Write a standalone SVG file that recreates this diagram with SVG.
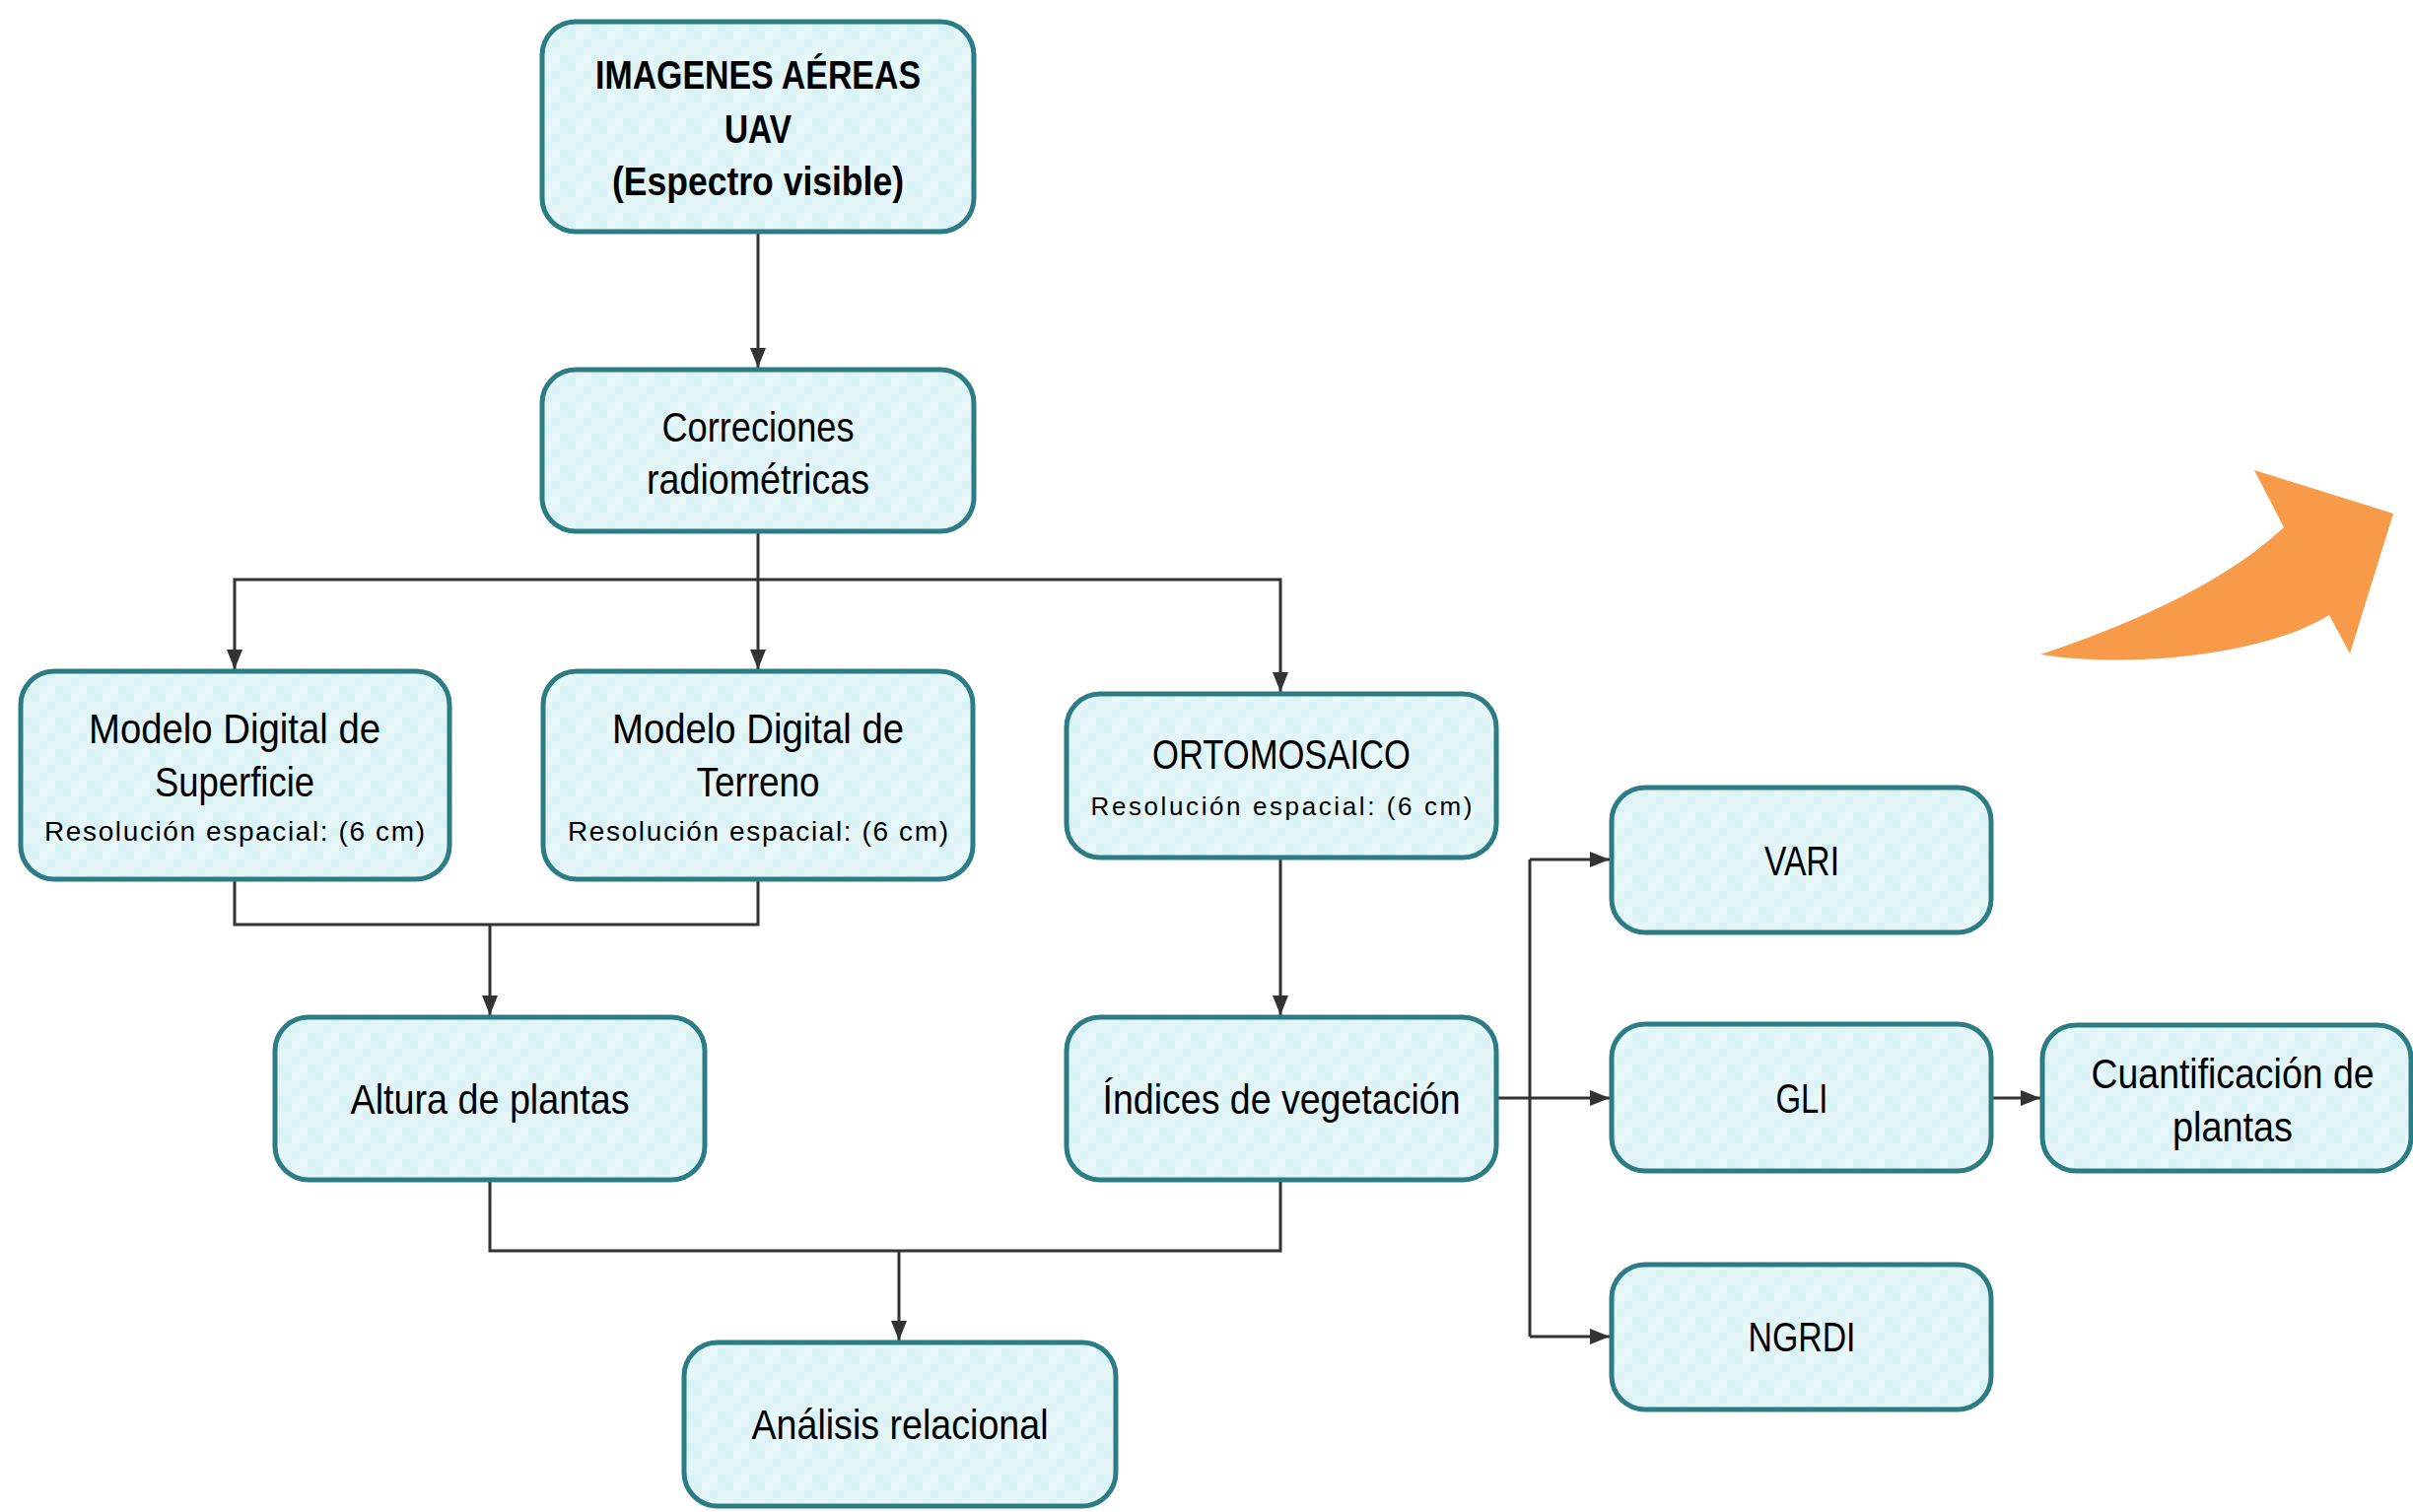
<svg xmlns="http://www.w3.org/2000/svg" width="2448" height="1534" viewBox="0 0 2448 1534">
<style>
.box{fill:url(#tex);stroke:#2b7c83;stroke-width:5}
.t{font-family:"Liberation Sans",Arial,sans-serif;font-size:42px;fill:#000;text-anchor:middle}
.b{font-weight:bold;font-size:40px}
.s{font-size:28px}
.s2{font-size:26px}
.c{fill:none;stroke:#333;stroke-width:3}
.a{marker-end:url(#arr)}
</style>
<defs>
<pattern id="tex" width="32" height="32" patternUnits="userSpaceOnUse">
<rect width="32" height="32" fill="#e5f6f9"/>
<rect x="0" y="0" width="8" height="8" fill="#d8f1f5"/>
<rect x="16" y="8" width="8" height="8" fill="#d8f1f5"/>
<rect x="8" y="16" width="8" height="8" fill="#dbf3f6"/>
<rect x="24" y="24" width="8" height="8" fill="#d8f1f5"/>
<rect x="24" y="0" width="8" height="8" fill="#ddf3f7"/>
<rect x="0" y="24" width="8" height="8" fill="#ddf3f7"/>
<rect x="8" y="0" width="8" height="8" fill="#e9f8fb"/>
<rect x="16" y="24" width="8" height="8" fill="#e9f8fb"/>
</pattern>
<marker id="arr" markerUnits="userSpaceOnUse" markerWidth="20" markerHeight="16" refX="20" refY="8" orient="auto">
<path d="M0,0 L20,8 L0,16 Z" fill="#333"/>
</marker>
</defs>
<rect width="2448" height="1534" fill="#fff"/>

<g id="connectors">
<path class="c a" d="M769 235 V373"/>
<path class="c a" d="M769 539 V679"/>
<path class="c a" d="M769 588 H238 V679"/>
<path class="c a" d="M769 588 H1299 V702"/>
<path class="c" d="M238 892 V938 H769 V892"/>
<path class="c a" d="M497 938 V1030"/>
<path class="c a" d="M1299 870 V1030"/>
<path class="c" d="M497 1197 V1269 H1299 V1197"/>
<path class="c a" d="M912 1269 V1360"/>
<path class="c" d="M1552 872 V1356"/>
<path class="c a" d="M1517 1114 H1633"/>
<path class="c a" d="M1552 872 H1633"/>
<path class="c a" d="M1552 1356 H1633"/>
<path class="c a" d="M2020 1114 H2070"/>
</g>

<g id="n-imagenes">
<rect class="box" x="550" y="22" width="438" height="213" rx="34"/>
<text class="t b" x="769" y="90" textLength="330" lengthAdjust="spacingAndGlyphs">IMAGENES AÉREAS</text>
<text class="t b" x="769" y="145" textLength="68" lengthAdjust="spacingAndGlyphs">UAV</text>
<text class="t b" x="769" y="198" textLength="296" lengthAdjust="spacingAndGlyphs">(Espectro visible)</text>
</g>

<g id="n-correciones">
<rect class="box" x="550" y="375" width="438" height="164" rx="34"/>
<text class="t" x="769" y="448" textLength="195" lengthAdjust="spacingAndGlyphs">Correciones</text>
<text class="t" x="769" y="501" textLength="226" lengthAdjust="spacingAndGlyphs">radiométricas</text>
</g>

<g id="n-mds">
<rect class="box" x="21" y="681" width="435" height="211" rx="34"/>
<text class="t" x="238" y="754" textLength="296" lengthAdjust="spacingAndGlyphs">Modelo Digital de</text>
<text class="t" x="238" y="808" textLength="162" lengthAdjust="spacingAndGlyphs">Superficie</text>
<text class="t s" x="238" y="853" textLength="386" lengthAdjust="spacing">Resolución espacial: (6 cm)</text>
</g>

<g id="n-mdt">
<rect class="box" x="551" y="681" width="436" height="211" rx="34"/>
<text class="t" x="769" y="754" textLength="296" lengthAdjust="spacingAndGlyphs">Modelo Digital de</text>
<text class="t" x="769" y="808" textLength="125" lengthAdjust="spacingAndGlyphs">Terreno</text>
<text class="t s" x="769" y="853" textLength="386" lengthAdjust="spacing">Resolución espacial: (6 cm)</text>
</g>

<g id="n-orto">
<rect class="box" x="1082" y="704" width="436" height="166" rx="34"/>
<text class="t" x="1300" y="780" textLength="262" lengthAdjust="spacingAndGlyphs">ORTOMOSAICO</text>
<text class="t s2" x="1300" y="827" textLength="387" lengthAdjust="spacing">Resolución espacial: (6 cm)</text>
</g>

<g id="n-altura">
<rect class="box" x="279" y="1032" width="436" height="165" rx="34"/>
<text class="t" x="497" y="1130" textLength="283" lengthAdjust="spacingAndGlyphs">Altura de plantas</text>
</g>

<g id="n-indices">
<rect class="box" x="1082" y="1032" width="436" height="165" rx="34"/>
<text class="t" x="1300" y="1130" textLength="363" lengthAdjust="spacingAndGlyphs">Índices de vegetación</text>
</g>

<g id="n-analisis">
<rect class="box" x="694" y="1362" width="438" height="166" rx="34"/>
<text class="t" x="913" y="1460" textLength="301" lengthAdjust="spacingAndGlyphs">Análisis relacional</text>
</g>

<g id="n-vari">
<rect class="box" x="1635" y="799" width="385" height="147" rx="34"/>
<text class="t" x="1828" y="888" textLength="76" lengthAdjust="spacingAndGlyphs">VARI</text>
</g>

<g id="n-gli">
<rect class="box" x="1635" y="1039" width="385" height="149" rx="34"/>
<text class="t" x="1828" y="1129" textLength="53" lengthAdjust="spacingAndGlyphs">GLI</text>
</g>

<g id="n-ngrdi">
<rect class="box" x="1635" y="1283" width="385" height="147" rx="34"/>
<text class="t" x="1828" y="1371" textLength="109" lengthAdjust="spacingAndGlyphs">NGRDI</text>
</g>

<g id="n-cuant">
<rect class="box" x="2072" y="1040" width="374" height="148" rx="34"/>
<text class="t" x="2265" y="1104" textLength="287" lengthAdjust="spacingAndGlyphs">Cuantificación de</text>
<text class="t" x="2265" y="1158" textLength="122" lengthAdjust="spacingAndGlyphs">plantas</text>
</g>

<g id="orange-arrow">
<path d="M2070 664 Q2240 607 2317 535 L2287 477 L2428 521 L2384 663 L2363 624 C2307 660 2173 680 2070 664 Z" fill="#f79a49"/>
</g>
</svg>
